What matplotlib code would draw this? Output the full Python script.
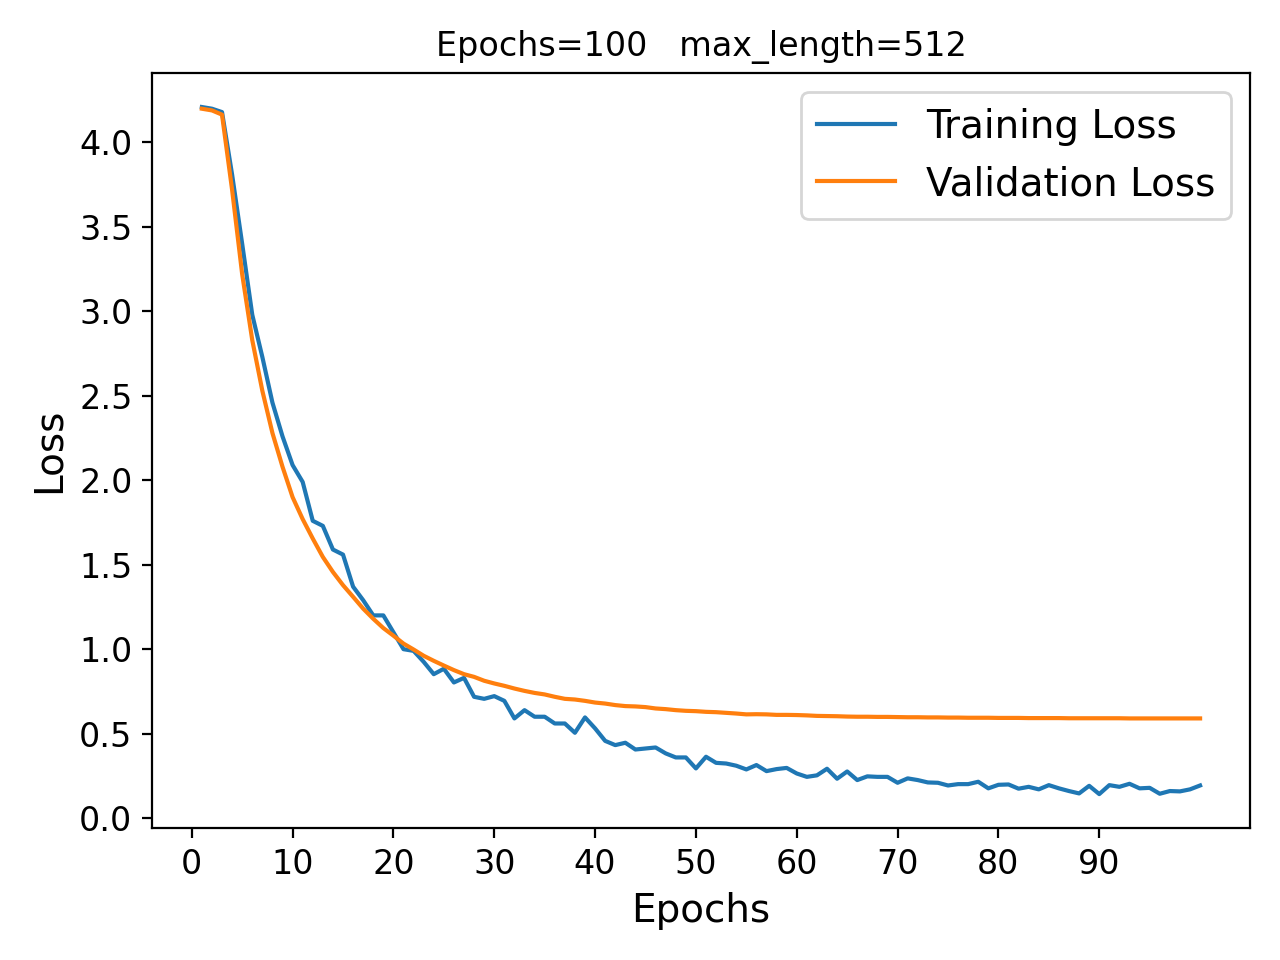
import matplotlib
matplotlib.use("Agg")
import matplotlib.pyplot as plt

epochs = list(range(1, 101))

train_loss = [
    4.21, 4.20, 4.18, 3.81, 3.40, 2.98, 2.73, 2.46, 2.26, 2.09,
    1.99, 1.76, 1.73, 1.59, 1.56, 1.37, 1.29, 1.20, 1.20, 1.10,
    1.00, 0.99, 0.925, 0.852, 0.884, 0.803, 0.830, 0.718, 0.706, 0.722,
    0.694, 0.590, 0.639, 0.600, 0.600, 0.560, 0.560, 0.505, 0.596, 0.531,
    0.457, 0.432, 0.446, 0.406, 0.412, 0.418, 0.383, 0.359, 0.359, 0.294,
    0.363, 0.327, 0.323, 0.310, 0.288, 0.314, 0.278, 0.290, 0.297, 0.264,
    0.244, 0.253, 0.292, 0.233, 0.276, 0.225, 0.247, 0.244, 0.244, 0.209,
    0.235, 0.225, 0.211, 0.209, 0.193, 0.201, 0.201, 0.215, 0.176, 0.197,
    0.199, 0.174, 0.185, 0.170, 0.195, 0.176, 0.160, 0.146, 0.191, 0.142,
    0.195, 0.185, 0.203, 0.176, 0.179, 0.144, 0.160, 0.158, 0.170, 0.193,
]

val_loss = [
    4.20, 4.19, 4.165, 3.72, 3.22, 2.83, 2.53, 2.28, 2.08, 1.90,
    1.77, 1.655, 1.546, 1.457, 1.379, 1.31, 1.24, 1.18, 1.125, 1.08,
    1.033, 0.998, 0.961, 0.931, 0.903, 0.876, 0.852, 0.836, 0.813, 0.797,
    0.783, 0.767, 0.753, 0.741, 0.732, 0.718, 0.706, 0.702, 0.694, 0.684,
    0.678, 0.669, 0.663, 0.661, 0.657, 0.649, 0.645, 0.639, 0.635, 0.633,
    0.629, 0.627, 0.623, 0.619, 0.614, 0.615, 0.614, 0.611, 0.611, 0.610,
    0.608, 0.605, 0.604, 0.603, 0.601, 0.600, 0.600, 0.599, 0.599, 0.598,
    0.597, 0.597, 0.596, 0.596, 0.595, 0.595, 0.594, 0.594, 0.594, 0.593,
    0.593, 0.593, 0.592, 0.592, 0.592, 0.592, 0.591, 0.591, 0.591, 0.591,
    0.591, 0.591, 0.590, 0.590, 0.590, 0.590, 0.590, 0.590, 0.590, 0.590,
]

xtick_values = list(range(0, 100, 10))
title_text = "Epochs=100   max_length=512"

fig, ax = plt.subplots(figsize=(6.4, 4.8), dpi=200)
ax.plot(epochs, train_loss, label="Training Loss")
ax.plot(epochs, val_loss, label="Validation Loss")
ax.set_title(title_text, fontsize=12)
ax.set_xlabel("Epochs", fontsize=14)
ax.set_ylabel("Loss", fontsize=14)
ax.set_xticks(xtick_values)
ax.tick_params(labelsize=12)
ax.legend(fontsize=14)
fig.tight_layout()
fig.savefig("out.png", dpi=200)
